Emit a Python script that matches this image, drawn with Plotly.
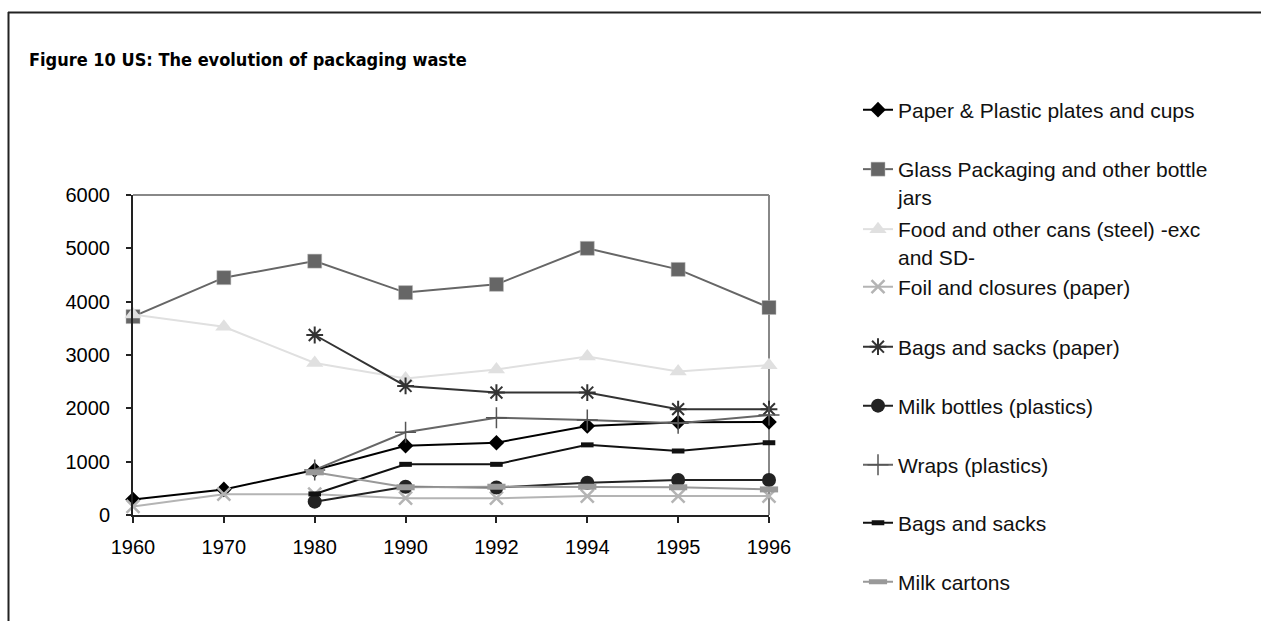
import plotly.graph_objects as go

years = ["1960", "1970", "1980", "1990", "1992", "1994", "1995", "1996"]

paper_plastic_plates = [290, 480, 845, 1300, 1355, 1670, 1740, 1745]
glass_packaging = [3720, 4450, 4760, 4170, 4325, 5000, 4605, 3890]
food_cans = [3760, 3530, 2850, 2560, 2730, 2970, 2690, 2810]
foil_closures = [160, 390, 390, 315, 315, 355, 355, 355]
bags_paper = [None, None, 3375, 2420, 2295, 2295, 1985, 1985]
milk_bottles = [None, None, 250, 530, 515, 605, 655, 655]
wraps_plastics = [None, None, 845, 1550, 1825, 1780, 1720, 1875]
bags_sacks = [None, None, 395, 950, 950, 1315, 1200, 1355]
milk_cartons = [None, None, 800, 520, 530, 530, 520, 480]

names = [
    "Paper & Plastic plates and cups",
    "Glass Packaging and other bottle<br>jars",
    "Food and other cans (steel) -exc<br>and SD-",
    "Foil and closures (paper)",
    "Bags and sacks (paper)",
    "Milk bottles (plastics)",
    "Wraps (plastics)",
    "Bags and sacks",
    "Milk cartons",
]
series = [paper_plastic_plates, glass_packaging, food_cans, foil_closures,
          bags_paper, milk_bottles, wraps_plastics, bags_sacks, milk_cartons]

styles = [
    dict(lc="#000000", marker=dict(symbol="diamond", size=12, color="#000000")),
    dict(lc="#666666", marker=dict(symbol="square", size=14, color="#666666",
                                   line=dict(color="#bbbbbb", width=0.5))),
    dict(lc="#e0e0e0", marker=dict(symbol="triangle-up", size=15, color="#e0e0e0")),
    dict(lc="#b4b4b4", marker=dict(symbol="x-thin-open", size=13, color="#b4b4b4",
                                   line=dict(color="#b4b4b4", width=2.5))),
    dict(lc="#333333", marker=dict(symbol="asterisk-open", size=14, color="#333333",
                                   line=dict(color="#333333", width=2))),
    dict(lc="#222222", marker=dict(symbol="circle", size=14, color="#222222")),
    dict(lc="#666666", marker=dict(symbol="cross-thin-open", size=15, color="#555555",
                                   line=dict(color="#555555", width=1.5))),
    dict(lc="#111111", marker=dict(symbol="line-ew-open", size=9, color="#111111",
                                   line=dict(color="#111111", width=5))),
    dict(lc="#999999", marker=dict(symbol="line-ew-open", size=13, color="#999999",
                                   line=dict(color="#999999", width=6))),
]

W, H = 1261, 621
L, R, T, B = 133, W - 769, 195, H - 515
PW, PH = W - L - R, H - T - B


def px_x(px):
    return (px - L) / PW


def px_y(py):
    return (H - B - py) / PH


fig = go.Figure()
legend_keys = ["legend"] + [f"legend{i}" for i in range(2, 10)]
for name, vals, st, lk in zip(names, series, styles, legend_keys):
    fig.add_trace(go.Scatter(
        x=years, y=vals, name=name, mode="lines+markers",
        line=dict(color=st["lc"], width=2), marker=st["marker"],
        cliponaxis=False, legend=lk, connectgaps=False,
    ))

# legend first-line centres (px) and number of lines
legend_pos = [(110, 1), (168, 2), (228, 2), (287, 1), (347, 1), (406, 1), (465, 1), (523, 1), (582, 1)]
legend_font = dict(family="Liberation Sans, Arial, sans-serif", size=21, color="#111111")
layout_legends = {}
for lk, (py, nl) in zip(legend_keys, legend_pos):
    cy = py + (nl - 1) * 15
    layout_legends[lk] = dict(
        x=px_x(858), xanchor="left", y=px_y(cy), yanchor="middle",
        font=legend_font, bgcolor="rgba(0,0,0,0)", valign="top",
        borderwidth=0, tracegroupgap=0,
    )

tick_font = dict(family="Liberation Sans, Arial, sans-serif", size=20, color="#000000")

fig.update_layout(
    width=W, height=H,
    margin=dict(l=L, r=R, t=T, b=B, autoexpand=False),
    paper_bgcolor="white", plot_bgcolor="white",
    showlegend=True,
    **layout_legends,
    xaxis=dict(type="category", categoryorder="array", categoryarray=years,
               range=[0, 7], showgrid=False, zeroline=False,
               showline=True, linecolor="#222222", linewidth=2,
               ticks="outside", ticklen=6, tickwidth=1.5, tickcolor="#222222",
               tickfont=tick_font, ticklabelstandoff=7),
    yaxis=dict(range=[0, 6000], dtick=1000, showgrid=False, zeroline=False,
               showline=True, linecolor="#222222", linewidth=2,
               ticks="outside", ticklen=5, tickwidth=1.5, tickcolor="#222222",
               tickfont=tick_font, ticklabelstandoff=12),
    xaxis2=dict(overlaying="x", range=[0, 7], dtick=1, showgrid=False, zeroline=False,
                showline=False, ticks="inside", ticklen=6, tickwidth=1.5,
                tickcolor="#222222", showticklabels=False, side="bottom",
                anchor="y"),
    yaxis2=dict(overlaying="y", range=[0, 6000], dtick=1000, showgrid=False,
                zeroline=False, showline=False, ticks="inside", ticklen=7,
                tickwidth=1.5, tickcolor="#222222", showticklabels=False,
                side="left", anchor="x"),
)

# plot area top/right borders (gray)
fig.add_shape(type="line", xref="paper", yref="paper", x0=0, x1=1, y0=1, y1=1,
              line=dict(color="#888888", width=2), layer="below")
fig.add_shape(type="line", xref="paper", yref="paper", x0=1, x1=1, y0=0, y1=1,
              line=dict(color="#888888", width=2), layer="below")

# outer frame (top and left)
fig.add_shape(type="line", xref="paper", yref="paper",
              x0=px_x(8), x1=px_x(W + 5), y0=px_y(12.5), y1=px_y(12.5),
              line=dict(color="#222222", width=2))
fig.add_shape(type="line", xref="paper", yref="paper",
              x0=px_x(8.5), x1=px_x(8.5), y0=px_y(12), y1=px_y(H + 5),
              line=dict(color="#222222", width=2))

fig.add_annotation(
    text="<b>Figure 10 US: The evolution of packaging waste</b>",
    xref="paper", yref="paper", x=px_x(27), y=px_y(59),
    xanchor="left", yanchor="middle", showarrow=False,
    font=dict(family="DejaVu Sans Condensed, sans-serif",
              size=18, color="#000000"),
)

fig.write_html("out.html")
